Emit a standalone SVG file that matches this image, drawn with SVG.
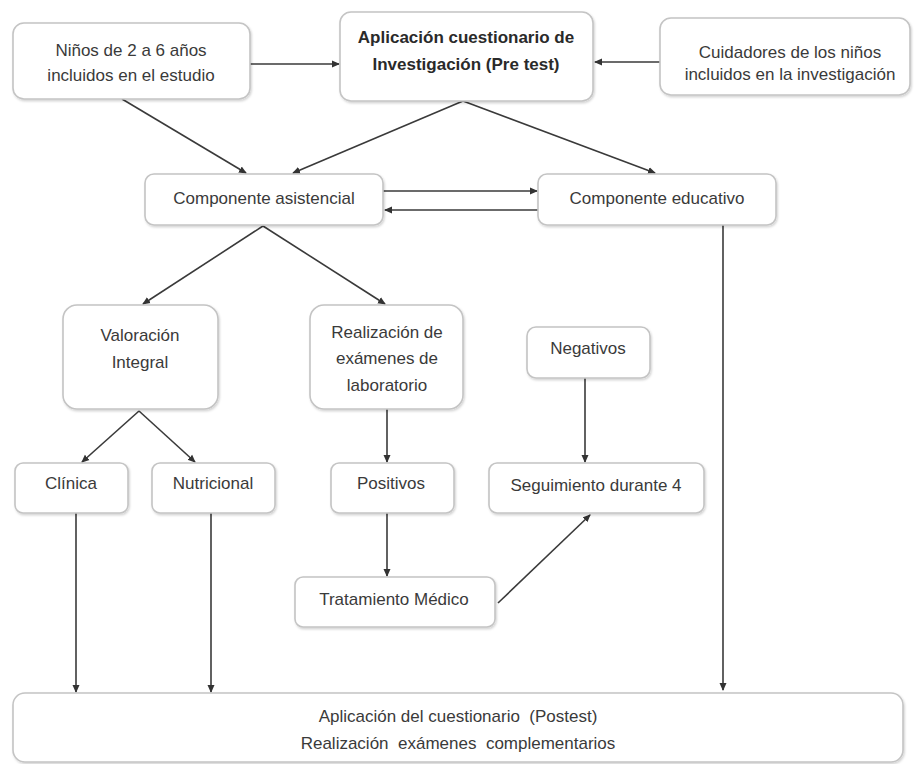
<svg xmlns="http://www.w3.org/2000/svg" width="914" height="764" viewBox="0 0 914 764">
<defs>
<marker id="ah" markerWidth="8" markerHeight="8" refX="7" refY="4" orient="auto" markerUnits="userSpaceOnUse">
<path d="M0,0.5 L8,4 L0,7.5 Z" fill="#333"/>
</marker>
<filter id="sh" x="-5%" y="-5%" width="110%" height="115%">
<feDropShadow dx="1" dy="1.5" stdDeviation="1" flood-color="#000" flood-opacity="0.18"/>
</filter>
</defs>
<style>
.box{fill:#fff;stroke:#c4c4c4;stroke-width:1.6;filter:url(#sh)}
.t{font-family:"Liberation Sans",Arial,sans-serif;font-size:17px;fill:#3a3a3a;text-anchor:middle;white-space:pre}
.b{font-weight:bold;fill:#2a2a2a}
.c{stroke:#3a3a3a;stroke-width:1.6;fill:none;marker-end:url(#ah)}
</style>
<rect width="914" height="764" fill="#fff"/>

<g id="connectors">
<line class="c" x1="250" y1="64" x2="339" y2="64"/>
<line class="c" x1="660" y1="62" x2="595" y2="62"/>
<line class="c" x1="122" y1="99" x2="246" y2="173"/>
<line class="c" x1="463" y1="101" x2="293" y2="173"/>
<line class="c" x1="463" y1="101" x2="655" y2="173"/>
<line class="c" x1="383" y1="191" x2="537" y2="191"/>
<line class="c" x1="538" y1="210" x2="385" y2="210"/>
<line class="c" x1="263" y1="226" x2="143" y2="304"/>
<line class="c" x1="263" y1="226" x2="385" y2="304"/>
<line class="c" x1="139" y1="411" x2="82" y2="462"/>
<line class="c" x1="139" y1="411" x2="195" y2="462"/>
<line class="c" x1="387" y1="409" x2="387" y2="462"/>
<line class="c" x1="585" y1="378" x2="585" y2="462"/>
<line class="c" x1="387" y1="513" x2="387" y2="576"/>
<line class="c" x1="498" y1="603" x2="590" y2="515"/>
<line class="c" x1="76" y1="513" x2="76" y2="692"/>
<line class="c" x1="211" y1="513" x2="211" y2="692"/>
<line class="c" x1="723" y1="225" x2="723" y2="690"/>
</g>

<g id="ninos">
<rect class="box" x="13" y="23" width="237" height="76" rx="11"/>
<text class="t" x="131" y="56">Niños de 2 a 6 años</text>
<text class="t" x="131" y="81">incluidos en el estudio</text>
</g>
<g id="pretest">
<rect class="box" x="340" y="12" width="253" height="89" rx="11"/>
<text class="t b" x="466" y="43">Aplicación cuestionario de</text>
<text class="t b" x="466" y="70">Investigación (Pre test)</text>
</g>
<g id="cuidadores">
<rect class="box" x="660" y="18" width="250" height="77" rx="11"/>
<text class="t" x="790" y="58">Cuidadores de los niños</text>
<text class="t" x="790" y="80">incluidos en la investigación</text>
</g>
<g id="asistencial">
<rect class="box" x="145" y="174" width="238" height="51" rx="9"/>
<text class="t" x="264" y="204">Componente asistencial</text>
</g>
<g id="educativo">
<rect class="box" x="538" y="174" width="238" height="51" rx="9"/>
<text class="t" x="657" y="204">Componente educativo</text>
</g>
<g id="valoracion">
<rect class="box" x="63" y="305" width="155" height="104" rx="14"/>
<text class="t" x="140" y="341">Valoración</text>
<text class="t" x="140" y="368">Integral</text>
</g>
<g id="laboratorio">
<rect class="box" x="310" y="305" width="153" height="104" rx="14"/>
<text class="t" x="387" y="338">Realización de</text>
<text class="t" x="387" y="364">exámenes de</text>
<text class="t" x="387" y="391">laboratorio</text>
</g>
<g id="negativos">
<rect class="box" x="527" y="327" width="123" height="51" rx="9"/>
<text class="t" x="588" y="354">Negativos</text>
</g>
<g id="clinica">
<rect class="box" x="15" y="463" width="113" height="50" rx="8"/>
<text class="t" x="71" y="489">Clínica</text>
</g>
<g id="nutricional">
<rect class="box" x="152" y="463" width="123" height="50" rx="8"/>
<text class="t" x="213" y="489">Nutricional</text>
</g>
<g id="positivos">
<rect class="box" x="331" y="463" width="123" height="50" rx="8"/>
<text class="t" x="391" y="489">Positivos</text>
</g>
<g id="seguimiento">
<rect class="box" x="489" y="463" width="215" height="50" rx="8"/>
<text class="t" x="596" y="491">Seguimiento durante 4</text>
</g>
<g id="tratamiento">
<rect class="box" x="295" y="577" width="200" height="50" rx="8"/>
<text class="t" x="394" y="605">Tratamiento Médico</text>
</g>
<g id="postest">
<rect class="box" x="13" y="693" width="890" height="69" rx="12"/>
<text class="t" x="458" y="722">Aplicación del cuestionario  (Postest)</text>
<text class="t" x="458" y="749">Realización  exámenes  complementarios</text>
</g>
</svg>
